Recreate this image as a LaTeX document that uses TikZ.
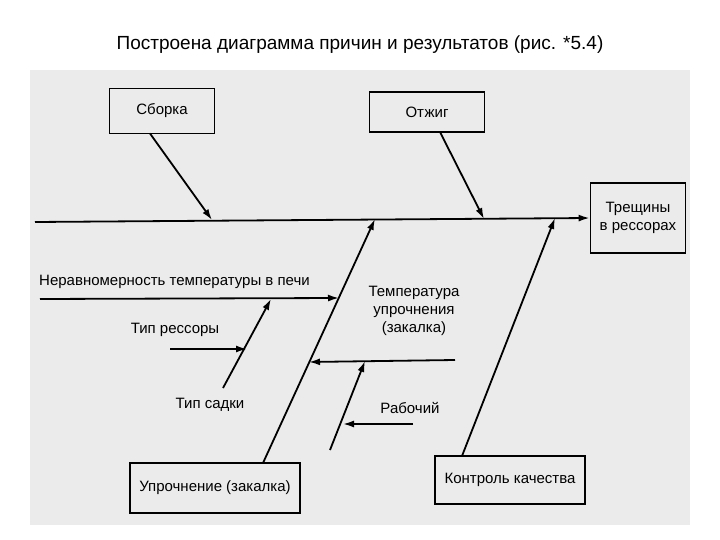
\documentclass[tikz,border=0pt]{standalone}
\usepackage{fontspec}
\setmainfont{Liberation Sans}
\usetikzlibrary{arrows.meta}
\begin{document}
\begin{tikzpicture}[x=1pt,y=-1pt,
  box/.style={draw,line width=1.8pt,align=center,font=\fontsize{15}{18}\selectfont,inner sep=0pt},
  lbl/.style={align=center,font=\fontsize{15}{18}\selectfont,inner sep=1pt},
  ln/.style={line width=1.8pt,-{Latex[length=11pt,width=7pt]}}]
\useasboundingbox (0,0) rectangle (720,540);
\fill[white] (0,0) rectangle (720,540);
\fill[black!8] (30,70) rectangle (690,525);
\node[font=\fontsize{19}{22}\selectfont] (title) at (360,45) {Построена диаграмма причин и результатов (рис. *5.4)};
\node[box,minimum width=105pt,minimum height=45pt] (sb) at (162,111) {Сборка};
\node[box,minimum width=115pt,minimum height=40pt] (ot) at (427,112) {Отжиг};
\node[box,minimum width=95pt,minimum height=70pt] (tr) at (638,218) {Трещины\\в рессорах};
\node[box,minimum width=170pt,minimum height=50pt] (up) at (215,488) {Упрочнение (закалка)};
\node[box,minimum width=150pt,minimum height=48pt] (kk) at (510,480) {Контроль качества};
\coordinate (s0) at (35,222);
\draw[ln] (s0) -- (tr.west);
\coordinate (a1) at (212,220);
\coordinate (a2) at (484,219);
\coordinate (a3) at (375,219);
\coordinate (a4) at (555,218);
\draw[ln] (150,133.5) -- (a1);
\draw[ln] (440,132) -- (a2);
\coordinate (r0) at (263,463);
\draw[ln] (r0) -- (a3);
\coordinate (k0) at (462,456);
\draw[ln] (k0) -- (a4);
\node[lbl,anchor=south west] (t1) at (38,290) {Неравномерность температуры в печи};
\coordinate (p1) at (40,299);
\coordinate (q1) at (339,298);
\draw[ln] (p1) -- (q1);
\coordinate (p2) at (223,388);
\coordinate (q2) at (271,299);
\draw[ln] (p2) -- (q2);
\node[lbl] (t2) at (210,405) {Тип садки};
\node[lbl] (t3) at (175,330) {Тип рессоры};
\coordinate (p3) at (170,349);
\coordinate (q3) at (247,349);
\draw[ln] (p3) -- (q3);
\node[lbl] (t4) at (414,311) {Температура\\упрочнения\\(закалка)};
\coordinate (p4) at (455,360);
\coordinate (q4) at (309,362);
\draw[ln] (p4) -- (q4);
\coordinate (p5) at (330,450);
\coordinate (q5) at (365,361);
\draw[ln] (p5) -- (q5);
\node[lbl] (t5) at (410,408) {Рабочий};
\coordinate (p6) at (413,424);
\coordinate (q6) at (343,424);
\draw[ln] (p6) -- (q6);
\end{tikzpicture}
\end{document}
